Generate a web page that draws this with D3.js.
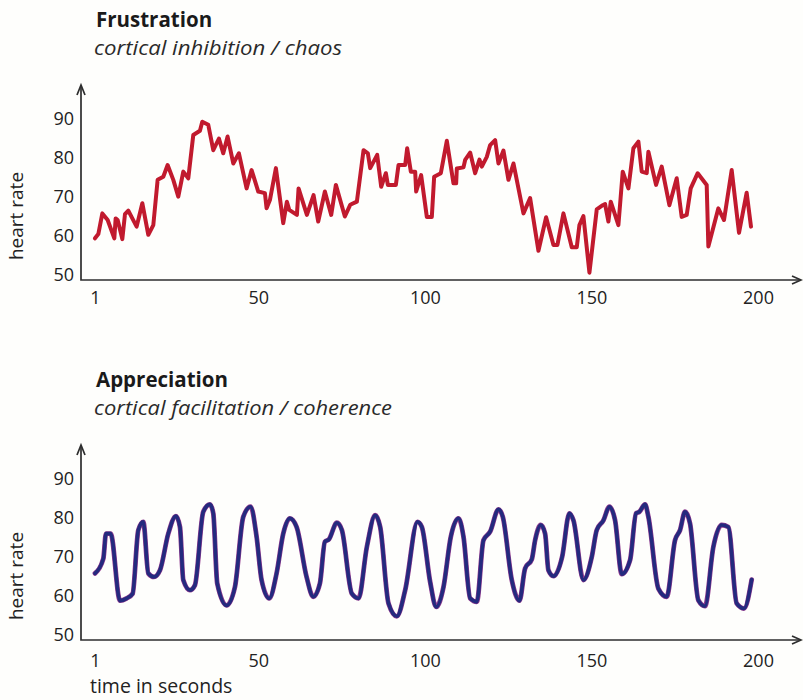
<!DOCTYPE html>
<html>
<head>
<meta charset="utf-8">
<script src="https://cdn.jsdelivr.net/npm/d3@7"></script>
<style>
  body { margin: 0; background: #fefefc; }
  svg { display: block; font-family: "Open Sans", "Noto Sans", sans-serif; }
</style>
</head>
<body>
<svg id="chart"></svg>
<script>
// heart rate readings, [second, bpm]
const frustration = [
  [1,59.4],[2,60.5],[3.2,65.8],[4.8,64.1],[6.8,59.4],[7.2,64.5],[7.8,64.1],[9.2,59.2],[10,65.6],[11,66.5],
  [12.2,64.5],[13.5,62.4],[15.2,68.4],[17,60.3],[18.5,62.8],[19.8,74.4],[21.5,75.2],[22.8,78.2],[24.5,74.4],[26,70.1],
  [27.5,76.5],[29,74.8],[30.5,85.9],[32.5,87],[33.2,89.3],[35,88.5],[36.5,82],[38.2,85],[39.5,81.2],[40.8,85.5],
  [42.5,78.6],[44.2,81.2],[46.5,72.2],[48,76.9],[50,71.4],[52,71],[52.5,67.1],[53.5,69.2],[55.3,77.4],[57.5,63.3],
  [58.6,68.8],[59.3,66.7],[61.6,65.4],[62.1,72.2],[64.6,65.4],[66.6,70.5],[68,63.7],[70,71.4],[71.9,65.4],[73.3,73.1],
  [76,65],[77.6,68],[79.6,68.8],[81.6,82],[82.9,81.2],[83.6,77.4],[85.7,80.8],[86.9,72.6],[88.3,76.1],[88.9,73.1],
  [91.3,73.1],[92.1,78.2],[94.1,78.2],[94.7,82.5],[95.8,76.5],[97.1,76.5],[97.4,71.4],[98.9,75.6],[100.6,64.9],[102.1,64.9],
  [102.8,75.2],[104.8,76.1],[106.6,84.4],[108.6,73.5],[109.4,73.5],[109.6,77.3],[111.6,77.6],[112.1,79.5],[113.6,81.4],[115.1,76.1],
  [116.4,79.6],[117.1,77.8],[118.6,80.3],[119.6,83.3],[121.1,84.6],[122.1,78.6],[123.6,81.9],[125.1,74.4],[126.6,78.6],[129.6,65.8],
  [131.6,69.7],[134.1,56.2],[136.4,64.8],[138.6,57.7],[139.8,57.7],[141.6,65.8],[144.1,57.1],[145.6,57.1],[146.4,62.8],[147.6,65.1],
  [149.4,50.6],[151.6,66.8],[153.4,67.9],[154.1,68.2],[155.1,63.7],[155.8,68.8],[158.1,62.8],[159.4,76.5],[161.1,72.2],[162.6,82.5],
  [164.1,84.2],[165.1,76.5],[166.6,76.1],[167.1,81.6],[169.4,73.1],[171.1,77.8],[173.4,67.9],[175.6,74.8],[177.1,64.9],[178.6,65.4],
  [179.8,72.2],[181.9,76.1],[184.6,73.1],[185.1,57.3],[188.1,67.1],[189.8,64.1],[192.1,76.9],[194.3,60.8],[196.6,71.1],[197.9,62.4]
];

const appreciation = [
  [1,65.8],[3.5,69.6],[4.3,76],[5.7,76],[8.5,58.8],[10.5,59.4],[12.3,60.6],[14,76.9],[15.5,79],[17,65.8],
  [18.7,64.9],[20.5,66.6],[23,76],[25.3,80.5],[26.5,77.7],[27.5,64.1],[29.5,61.5],[31,62.8],[33.5,81.6],[35.5,83.5],
  [36.5,81.2],[37.7,63.2],[40.5,57.6],[43,62.3],[45.5,80.3],[47.7,82.9],[49.5,75.2],[51,64.1],[53.3,59.4],[55.5,65.8],
  [57.5,76],[59.5,79.9],[61.5,77.7],[64.5,64.9],[66.5,59.8],[68.5,63.2],[70,73.9],[71.2,74.5],[73.6,78.8],[75.1,76.9],
  [78.1,60.6],[80.1,59.4],[82.6,72.6],[85.1,80.7],[86.6,77.7],[89.1,58.1],[91.6,54.8],[94.1,61.5],[97.8,79],[99.1,77.7],
  [101.6,63.6],[103.4,57.2],[105.6,62.3],[107.8,75.2],[110.1,79.9],[111.6,75.2],[113.6,59.4],[115.6,58.5],[117.6,74.3],[119.6,76.5],
  [122.1,82.2],[123.4,80.3],[126.1,64.1],[128.4,58.8],[130.1,67.1],[132.1,69.4],[133.1,74.3],[134.8,78.2],[136.1,76],[137.1,66.6],
  [138.6,65.1],[141.2,70],[143.4,81.2],[144.6,79.4],[147.6,64.1],[150.1,70],[151.6,76.9],[153.6,79.4],[155.4,82.9],[157.1,79.4],
  [159.1,65.6],[161.6,69.2],[163.4,81.2],[164.4,81.6],[166.1,83.5],[167.1,80.3],[170.1,61.9],[172.6,59.8],[175.1,74.3],[176.6,76.9],
  [178.1,81.6],[179.6,78.6],[182.1,58.9],[184.1,57.4],[186.6,72.6],[189.1,78.2],[191.1,77.7],[193.6,58.1],[195.8,56.8],[198.1,64.2]
];

const xTicks = [1, 50, 100, 150, 200];
const yTicks = [50, 60, 70, 80, 90];

const width = 803, height = 700;

const svg = d3.select("#chart")
  .attr("width", width)
  .attr("height", height);

svg.append("rect").attr("width", width).attr("height", height).attr("fill", "#fefefc");

const x = d3.scaleLinear().domain([1, 200]).range([95, 758]);

function drawPanel(top, title, subtitle, subWidth, data, smooth, colors, tickGap) {
  const g = svg.append("g").attr("transform", `translate(0,${top})`);
  const y = d3.scaleLinear().domain([50, 90]).range([275, 119]);

  g.append("text").attr("x", 96).attr("y", 27)
    .attr("font-size", 20.5).attr("font-weight", "bold").attr("fill", "#1a1a1a")
    .text(title);
  g.append("text").attr("x", 94).attr("y", 55)
    .attr("font-size", 20).attr("font-style", "italic").attr("fill", "#2a2a2a")
    .attr("textLength", subWidth).attr("lengthAdjust", "spacingAndGlyphs")
    .text(subtitle);

  // axes without tick marks, labels only
  g.append("g").attr("transform", "translate(74,0)")
    .call(d3.axisLeft(y).tickValues(yTicks).tickSize(0).tickPadding(0))
    .call(a => a.select(".domain").remove())
    .selectAll("text").attr("font-size", 18).attr("fill", "#222")
    .attr("font-family", "'Open Sans', sans-serif");

  g.append("g").attr("transform", `translate(0,${280 + tickGap})`)
    .call(d3.axisBottom(x).tickValues(xTicks).tickSize(0).tickPadding(0))
    .call(a => a.select(".domain").remove())
    .selectAll("text").attr("font-size", 18).attr("fill", "#222")
    .attr("font-family", "'Open Sans', sans-serif");

  g.append("text")
    .attr("transform", "translate(23,216) rotate(-90)")
    .attr("text-anchor", "middle").attr("font-size", 19).attr("fill", "#222")
    .text("heart rate");

  const axisColor = "#2e2e2e";
  g.append("path").attr("d", "M81,86 V280 H800")
    .attr("fill", "none").attr("stroke", axisColor).attr("stroke-width", 1.7);
  g.append("path").attr("d", "M77,95 L81,85 L85,95")
    .attr("fill", "none").attr("stroke", axisColor).attr("stroke-width", 1.7);
  g.append("path").attr("d", "M792,276 L801,280 L792,284")
    .attr("fill", "none").attr("stroke", axisColor).attr("stroke-width", 1.7);

  const line = d3.line()
    .x(d => x(d[0]))
    .y(d => y(d[1]))
    .curve(smooth ? d3.curveMonotoneX : d3.curveLinear);

  colors.forEach(c => {
    g.append("path").datum(data)
      .attr("d", line)
      .attr("fill", "none")
      .attr("stroke", c.stroke)
      .attr("stroke-width", c.width)
      .attr("stroke-linejoin", "round")
      .attr("stroke-linecap", "round");
  });
}

drawPanel(0, "Frustration", "cortical inhibition / chaos", 248, frustration, false,
  [{ stroke: "#c11a2e", width: 4 }], 11);

drawPanel(360, "Appreciation", "cortical facilitation / coherence", 298, appreciation, true,
  [{ stroke: "#8e3a8e", width: 4.8 }, { stroke: "#242a7e", width: 3.6 }], 14);

svg.append("text").attr("x", 90).attr("y", 693)
  .attr("font-size", 19.5).attr("fill", "#222")
  .text("time in seconds");
</script>
</body>
</html>
